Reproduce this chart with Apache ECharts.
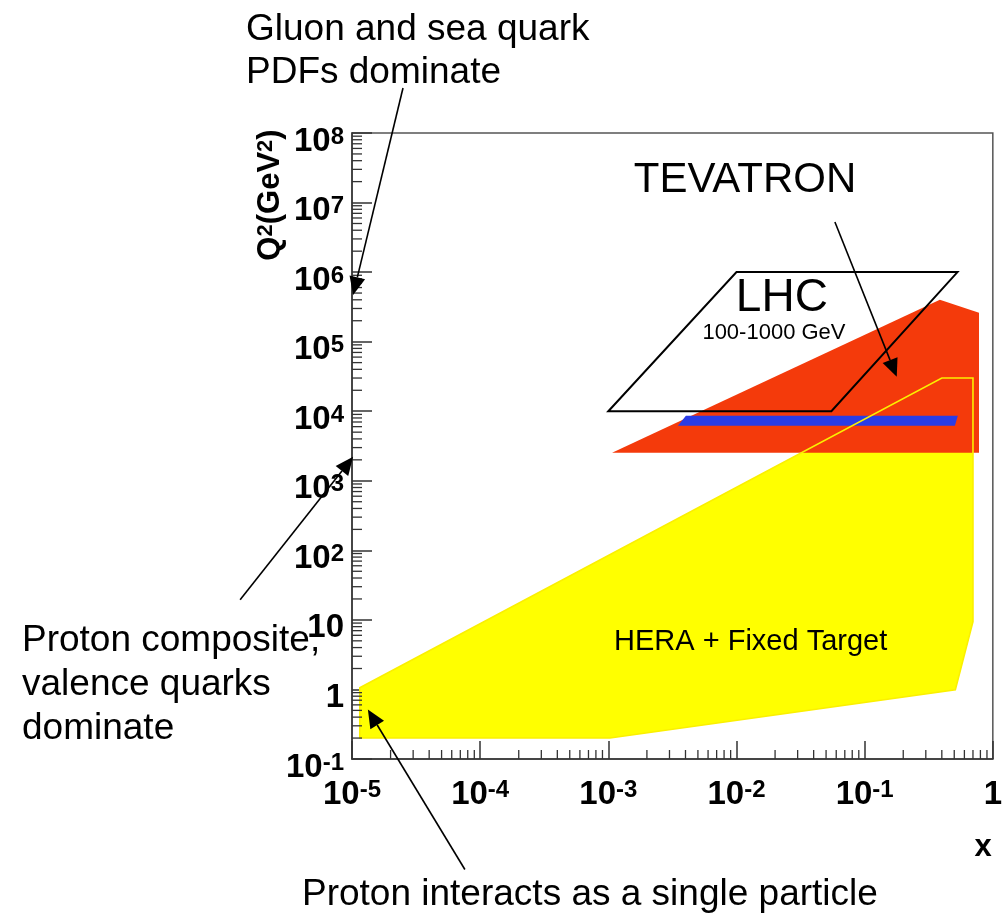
<!DOCTYPE html>
<html><head><meta charset="utf-8">
<script src="https://cdn.jsdelivr.net/npm/echarts@6/dist/echarts.min.js"></script>
<style>html,body{margin:0;padding:0;background:#fff}#c{width:1005px;height:923px}</style>
</head><body><div id="c"></div>
<script>
// ---- Axis ranges (x and Q^2, log scale) ----
const xRange = [1e-5, 1];
const yRange = [1e-1, 1e8];

// ---- Kinematic regions: polygons of [x, Q^2] ----
const heraFixedTarget = [[1.15e-5, 1.06], [0.40, 3.0e4], [0.70, 3.0e4], [0.70, 9.4], [0.51, 0.99], [1.03e-3, 0.2], [1.15e-5, 0.2]];
const tevatronRegion = [[1.07e-3, 2520], [0.386, 4.0e5], [0.78, 2.6e5], [0.78, 2520]];
const tevatronBand = [[3.49e-3, 6170], [4.03e-3, 8590], [0.533, 8590], [0.506, 6170]];
const lhcRegion = [[1e-3, 1e4], [1e-2, 1e6], [0.53, 1e6], [0.055, 1e4]];

// ---- Labels placed in data coordinates: [x, Q^2, text, kind] ----
const regionLabels = [
  [0.01165, 2.11e7, 'TEVATRON', 'big'],
  [0.0226, 4.26e5, 'LHC', 'lhc'],
  [0.0196, 1.34e5, '100-1000 GeV', 'small'],
  [0.0129, 4.87, 'HERA + Fixed Target', 'mid']
];

// ---- Annotation arrows: [x0, Q2_0, x1, Q2_1] (tail -> head) ----
const arrows = [
  [2.50e-5, 4.43e8, 1.02e-5, 4.70e5],
  [1.34e-6, 19.5, 1.02e-5, 2210],
  [7.6e-5, 2.58e-3, 1.33e-5, 0.513],
  [0.0586, 5.26e6, 0.178, 3.12e4]
];

// ---- minor tick values (2..9 x decade) ----
function minorTicks(lo, hi) {
  const out = [];
  for (let e = lo; e < hi; e++) for (let m = 2; m <= 9; m++) out.push(m * Math.pow(10, e));
  return out;
}
const xMinor = minorTicks(-5, 0);
const yMinor = minorTicks(-1, 8);

const FONT = '"Liberation Sans", Arial, Helvetica, sans-serif';
const AX = '#333';

function expLabel(v, axis) {
  const e = Math.round(Math.log10(v));
  if (e === 0) return '{b|1}';
  if (e === 1 && axis === 'y') return '{b|10}';
  return '{b|10}{s|' + e + '}';
}
const richLabel = {
  b: { fontSize: 33, fontWeight: 'bold', fontFamily: FONT, color: '#000', verticalAlign: 'bottom', lineHeight: 33, padding: [6, 0, 0, 0] },
  s: { fontSize: 24, fontWeight: 'bold', fontFamily: FONT, color: '#000', verticalAlign: 'top', lineHeight: 24 }
};

function polygonSeries(pts, style, z) {
  return {
    type: 'custom', coordinateSystem: 'cartesian2d', z: z, silent: true,
    data: pts, encode: { x: 0, y: 1 },
    renderItem: function (params, api) {
      if (params.dataIndex !== 0) return;
      const points = pts.map(p => api.coord(p));
      return { type: 'polygon', shape: { points: points }, style: style };
    }
  };
}

const labelStyles = {
  big: { fontSize: 42, fontWeight: 'normal' },
  lhc: { fontSize: 46, fontWeight: 'normal' },
  small: { fontSize: 22, fontWeight: 'normal' },
  mid: { fontSize: 29, fontWeight: 'normal' }
};

const chart = echarts.init(document.getElementById('c'), null, { renderer: 'canvas' });
chart.setOption({
  animation: false,
  backgroundColor: '#fff',
  grid: { left: 352, right: 12, top: 133, bottom: 164, show: true, borderColor: '#555', borderWidth: 1.5, containLabel: false },
  xAxis: {
    type: 'log', logBase: 10, min: xRange[0], max: xRange[1], splitNumber: 10,
    axisLine: { show: true, lineStyle: { color: AX, width: 1.5 } },
    axisTick: { show: true, inside: true, length: 18, lineStyle: { color: AX, width: 1.5 } },
    splitLine: { show: false },
    axisLabel: { margin: 19, formatter: v => expLabel(v, 'x'), rich: richLabel, showMinLabel: true, showMaxLabel: true }
  },
  yAxis: {
    type: 'log', logBase: 10, min: yRange[0], max: yRange[1], splitNumber: 10,
    axisLine: { show: true, lineStyle: { color: AX, width: 1.5 } },
    axisTick: { show: true, inside: true, length: 20, lineStyle: { color: AX, width: 1.5 } },
    splitLine: { show: false },
    axisLabel: { margin: 8, padding: [17, 0, 0, 0], formatter: v => expLabel(v, 'y'), rich: richLabel, showMinLabel: true, showMaxLabel: true }
  },
  graphic: [
    { type: 'text', left: 246, top: 8, silent: true,
      style: { text: 'Gluon and sea quark\nPDFs dominate', fontSize: 37, fontFamily: FONT, lineHeight: 43, fill: '#000' } },
    { type: 'text', left: 22, top: 619, silent: true,
      style: { text: 'Proton composite,\nvalence quarks\ndominate', fontSize: 37, fontFamily: FONT, lineHeight: 44, fill: '#000' } },
    { type: 'text', left: 302, top: 876, silent: true,
      style: { text: 'Proton interacts as a single particle', fontSize: 37, fontFamily: FONT, fill: '#000' } },
    { type: 'text', x: 983, y: 847, silent: true,
      style: { text: 'x', fontSize: 31, fontWeight: 'bold', fontFamily: FONT, fill: '#000', align: 'center', verticalAlign: 'middle' } },
    { type: 'text', x: 270, y: 195, rotation: Math.PI / 2, silent: true,
      style: { text: '{b|Q}{s|2}{b|(GeV}{s|2}{b|)}', align: 'center', verticalAlign: 'middle',
        rich: {
          b: { fontSize: 31, fontWeight: 'bold', fontFamily: FONT, fill: '#000', verticalAlign: 'bottom', lineHeight: 31, padding: [4, 0, 0, 0] },
          s: { fontSize: 22, fontWeight: 'bold', fontFamily: FONT, fill: '#000', verticalAlign: 'top', lineHeight: 22 }
        } } }
  ],
  series: [
    polygonSeries(heraFixedTarget, { fill: '#ffff00' }, 2),
    polygonSeries(tevatronRegion, { fill: '#f43a0b' }, 3),
    polygonSeries(tevatronBand, { fill: '#2a3ce6' }, 4),
    polygonSeries(heraFixedTarget, { fill: 'none', stroke: '#fbf000', lineWidth: 1.6 }, 5),
    polygonSeries(lhcRegion, { fill: 'none', stroke: '#000', lineWidth: 2 }, 6),
    {
      type: 'custom', coordinateSystem: 'cartesian2d', z: 7, silent: true,
      data: regionLabels, encode: { x: 0, y: 1 },
      renderItem: function (params, api) {
        const d = regionLabels[params.dataIndex];
        const p = api.coord([d[0], d[1]]);
        const s = labelStyles[d[3]];
        return { type: 'text', x: p[0], y: p[1],
          style: { text: d[2], fontSize: s.fontSize, fontWeight: s.fontWeight, fontFamily: FONT, fill: '#000', align: 'center', verticalAlign: 'middle' } };
      }
    },
    {
      type: 'custom', coordinateSystem: 'cartesian2d', z: 8, silent: true,
      data: xMinor.map(v => [v, yRange[0]]), encode: { x: 0, y: 1 },
      renderItem: function (params, api) {
        const p = api.coord([api.value(0), yRange[0]]);
        return { type: 'line', shape: { x1: p[0], y1: p[1], x2: p[0], y2: p[1] - 9 }, style: { stroke: AX, lineWidth: 1.3 } };
      }
    },
    {
      type: 'custom', coordinateSystem: 'cartesian2d', z: 8, silent: true,
      data: yMinor.map(v => [xRange[0], v]), encode: { x: 0, y: 1 },
      renderItem: function (params, api) {
        const p = api.coord([xRange[0], api.value(1)]);
        return { type: 'line', shape: { x1: p[0], y1: p[1], x2: p[0] + 10, y2: p[1] }, style: { stroke: AX, lineWidth: 1.3 } };
      }
    },
    {
      type: 'custom', coordinateSystem: 'cartesian2d', z: 9, silent: true, clip: false,
      data: arrows, encode: { x: [0, 2], y: [1, 3] },
      renderItem: function (params, api) {
        const a = api.coord([api.value(0), api.value(1)]);
        const b = api.coord([api.value(2), api.value(3)]);
        const dx = b[0] - a[0], dy = b[1] - a[1], L = Math.hypot(dx, dy);
        const ux = dx / L, uy = dy / L, hl = 18, hw = 8;
        const base = [b[0] - ux * hl, b[1] - uy * hl];
        return { type: 'group', children: [
          { type: 'line', shape: { x1: a[0], y1: a[1], x2: base[0], y2: base[1] }, style: { stroke: '#000', lineWidth: 1.6 } },
          { type: 'polygon', shape: { points: [b, [base[0] - uy * hw, base[1] + ux * hw], [base[0] + uy * hw, base[1] - ux * hw]] }, style: { fill: '#000' } }
        ] };
      }
    }
  ]
});
</script></body></html>
